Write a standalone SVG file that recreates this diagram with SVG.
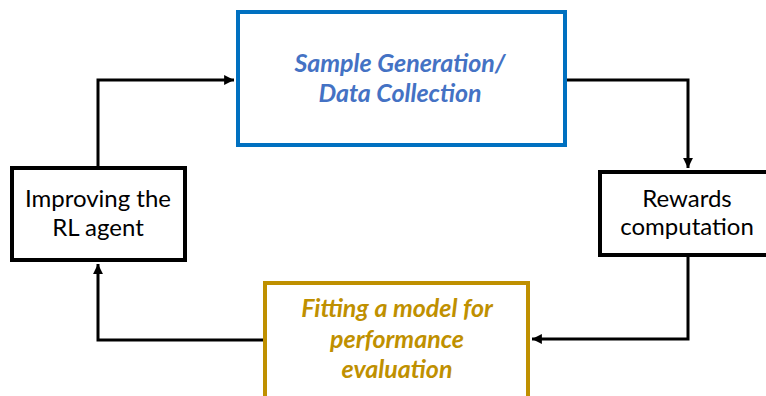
<svg xmlns="http://www.w3.org/2000/svg" width="766" height="396" viewBox="0 0 766 396">
  <style>
    .box { fill: #ffffff; stroke-width: 4; }
    .plain { stroke: #000000; }
    .lbl { font-family: Lato, "Liberation Sans", sans-serif; font-size: 24px; text-anchor: middle; fill: #000000; }
    .emph { font-family: Lato, "Liberation Sans", sans-serif; font-size: 25px; font-weight: bold; font-style: italic; text-anchor: middle; }
    .link { fill: none; stroke: #000000; stroke-width: 3; stroke-linejoin: miter; }
  </style>
  <defs>
    <marker id="arrow" viewBox="0 0 10 10" refX="10" refY="5" markerWidth="3.3" markerHeight="3.3" orient="auto" markerUnits="strokeWidth">
      <path d="M0,0 L10,5 L0,10 Z" fill="#000000"/>
    </marker>
  </defs>
  <rect width="766" height="396" fill="#ffffff"/>

  <g id="connectors">
    <path class="link" d="M98,166 V80 H234" marker-end="url(#arrow)"/>
    <path class="link" d="M567,80 H688 V168" marker-end="url(#arrow)"/>
    <path class="link" d="M688,257 V339 H532" marker-end="url(#arrow)"/>
    <path class="link" d="M263,340 H98 V264" marker-end="url(#arrow)"/>
  </g>

  <g id="sample-generation">
    <rect class="box" x="238" y="12" width="327" height="133" stroke="#0070C0"/>
    <text class="emph" fill="#4472C4" x="400" y="72">Sample Generation/</text>
    <text class="emph" fill="#4472C4" x="400" y="102">Data Collection</text>
  </g>

  <g id="improving-agent">
    <rect class="box plain" x="12" y="168" width="173" height="92"/>
    <text class="lbl" x="98" y="207">Improving the</text>
    <text class="lbl" x="98" y="236">RL agent</text>
  </g>

  <g id="rewards">
    <rect class="box plain" x="600" y="172" width="180" height="83"/>
    <text class="lbl" x="687" y="207">Rewards</text>
    <text class="lbl" x="687" y="235">computation</text>
  </g>

  <g id="model-fitting">
    <rect class="box" x="265" y="283" width="263" height="130" stroke="#BF9000"/>
    <text class="emph" fill="#BF9000" x="397" y="317">Fitting a model for</text>
    <text class="emph" fill="#BF9000" x="397" y="348">performance</text>
    <text class="emph" fill="#BF9000" x="397" y="378">evaluation</text>
  </g>
</svg>
